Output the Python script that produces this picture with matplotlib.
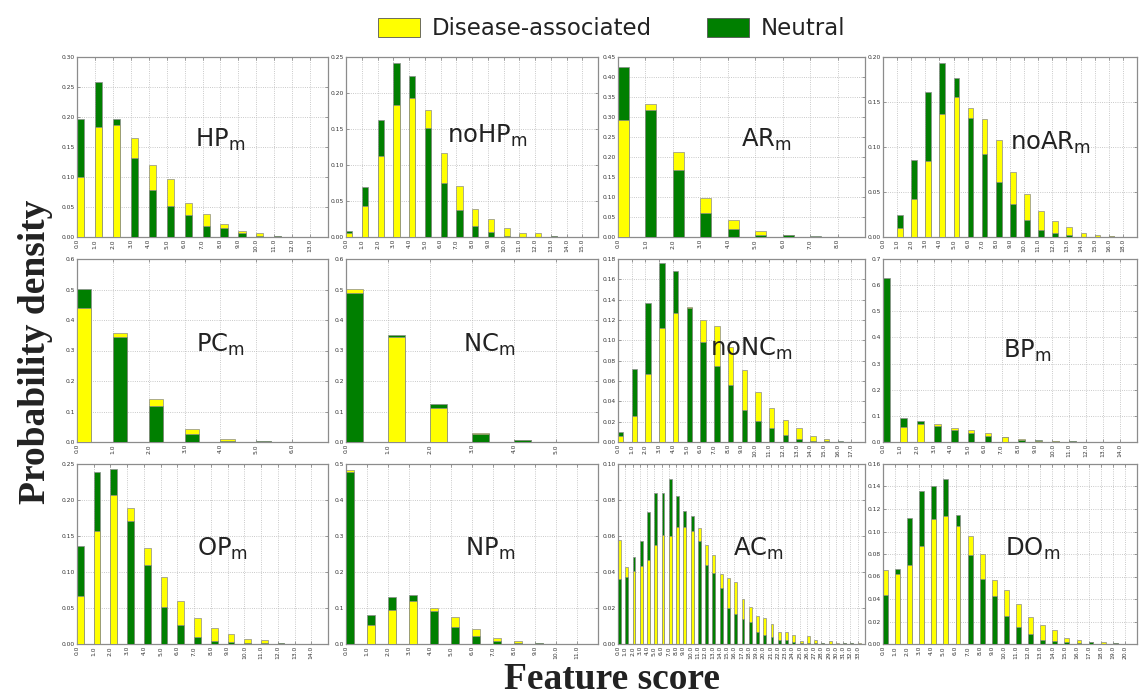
import numpy as np
import matplotlib
matplotlib.use('Agg')
from matplotlib import pyplot as plt
from matplotlib.patches import Patch

#----------------------------Colours-------------------------------------------#
DIS_YELLOW = '#ffff00'
NEU_GREEN = '#007f00'
EDGE_GREY = '#8c8c8c'
TEXT_DARK = '#222222'

#----------------------------Data----------------------------------------------#
# probability density per feature score (disease-associated / neutral)
hpm_scores = list(range(14))
hpm_dis = [0.100, 0.183, 0.187, 0.165, 0.120, 0.096, 0.056, 0.039, 0.022, 0.010,
           0.007, 0.002, 0.0005, 0.0003]
hpm_neu = [0.197, 0.258, 0.196, 0.132, 0.079, 0.052, 0.037, 0.018, 0.015, 0.007,
           0.001, 0.0015, 0.0005, 0.0003]

nohpm_scores = list(range(16))
nohpm_dis = [0.006, 0.0435, 0.1125, 0.183, 0.193, 0.177, 0.116, 0.071, 0.039, 0.0245,
             0.0125, 0.0055, 0.0055, 0.0015, 0.0005, 0.0]
nohpm_neu = [0.009, 0.069, 0.162, 0.242, 0.224, 0.151, 0.075, 0.038, 0.015, 0.0065,
             0.002, 0.0005, 0.0005, 0.001, 0.0005, 0.0]

arm_scores = list(range(9))
arm_dis = [0.292, 0.333, 0.2125, 0.098, 0.0425, 0.015, 0.005, 0.001, 0.0]
arm_neu = [0.426, 0.318, 0.168, 0.059, 0.020, 0.006, 0.004, 0.002, 0.0]

noarm_scores = [0, 1, 2, 3, 4, 5, 6, 7, 8, 9, 10, 11, 12, 13, 14, 15, 16, 18]
noarm_dis = [0.0, 0.0104, 0.042, 0.084, 0.137, 0.155, 0.143, 0.1315, 0.108, 0.072,
             0.0474, 0.029, 0.0174, 0.0115, 0.004, 0.0026, 0.0008, 0.0]
noarm_neu = [0.0005, 0.0248, 0.085, 0.161, 0.193, 0.177, 0.1326, 0.092, 0.061, 0.037,
             0.019, 0.008, 0.0044, 0.0026, 0.0005, 0.0003, 0.001, 0.0]

pcm_scores = list(range(7))
pcm_dis = [0.440, 0.358, 0.142, 0.0425, 0.011, 0.003, 0.0]
pcm_neu = [0.503, 0.345, 0.119, 0.026, 0.004, 0.002, 0.0]

ncm_scores = list(range(6))
ncm_dis = [0.502, 0.343, 0.112, 0.028, 0.007, 0.0]
ncm_neu = [0.489, 0.352, 0.123, 0.026, 0.006, 0.0]

noncm_scores = list(range(18))
noncm_dis = [0.0056, 0.0259, 0.0668, 0.1126, 0.127, 0.1329, 0.1198, 0.1142, 0.0936,
             0.0707, 0.0491, 0.033, 0.0216, 0.0137, 0.0059, 0.0033, 0.0003, 0.0]
noncm_neu = [0.0095, 0.0717, 0.1365, 0.1757, 0.1679, 0.1316, 0.0988, 0.075, 0.056,
             0.0317, 0.0209, 0.0137, 0.0072, 0.003, 0.0007, 0.0005, 0.001, 0.0]

bpm_scores = list(range(15))
bpm_dis = [0.0, 0.0585, 0.070, 0.0675, 0.0547, 0.0445, 0.033, 0.018, 0.0127, 0.004,
           0.002, 0.003, 0.0, 0.0, 0.0]
bpm_neu = [0.629, 0.090, 0.080, 0.061, 0.046, 0.034, 0.024, 0.020, 0.006, 0.006,
           0.003, 0.0025, 0.0, 0.0, 0.0]

opm_scores = list(range(15))
opm_dis = [0.066, 0.157, 0.207, 0.189, 0.134, 0.0926, 0.060, 0.0366, 0.0218, 0.0134,
           0.0065, 0.005, 0.002, 0.0003, 0.0003]
opm_neu = [0.1366, 0.239, 0.2435, 0.171, 0.110, 0.051, 0.027, 0.0093, 0.004, 0.0023,
           0.001, 0.001, 0.0018, 0.0002, 0.0002]

npm_scores = list(range(12))
npm_dis = [0.482, 0.053, 0.0944, 0.120, 0.100, 0.075, 0.0407, 0.0176, 0.0083, 0.002,
           0.0005, 0.0]
npm_neu = [0.479, 0.0806, 0.1306, 0.135, 0.0917, 0.047, 0.023, 0.0083, 0.004, 0.0018,
           0.001, 0.0]

acm_scores = list(range(34))
acm_dis = [0.0576, 0.0426, 0.0407, 0.0435, 0.0467, 0.055, 0.0606, 0.0598, 0.0652,
           0.0652, 0.0626, 0.0644, 0.0548, 0.0493, 0.0387, 0.0369, 0.0343, 0.0248,
           0.0206, 0.0156, 0.0146, 0.0111, 0.0069, 0.0065, 0.0048, 0.0017, 0.0043,
           0.0024, 0.0007, 0.0015, 0.0006, 0.0005, 0.0005, 0.0003]
acm_neu = [0.0359, 0.0372, 0.0485, 0.0574, 0.0735, 0.0839, 0.0841, 0.0917, 0.0824,
           0.0737, 0.0711, 0.0574, 0.0439, 0.0394, 0.0313, 0.0198, 0.0169, 0.0139,
           0.012, 0.0069, 0.0048, 0.0039, 0.0024, 0.0024, 0.0013, 0.0007, 0.0003,
           0.0006, 0.0007, 0.0002, 0.0002, 0.0003, 0.0003, 0.0002]

dom_scores = list(range(21))
dom_dis = [0.0655, 0.0625, 0.070, 0.0874, 0.111, 0.114, 0.1046, 0.0957, 0.0797,
           0.0566, 0.0477, 0.0353, 0.0243, 0.0166, 0.0121, 0.0056, 0.0033, 0.0018,
           0.0015, 0.0006, 0.0002]
dom_neu = [0.0433, 0.067, 0.1117, 0.1363, 0.140, 0.147, 0.1147, 0.0791, 0.058,
           0.0427, 0.0249, 0.0151, 0.0089, 0.0039, 0.0024, 0.0018, 0.0012, 0.0016,
           0.0003, 0.0005, 0.0003]

#----------------------------Panel setup---------------------------------------#
# (label, scores, disease, neutral, ymax, ystep, tick format)
panels = [
    ('HP', hpm_scores, hpm_dis, hpm_neu, 0.30, 0.05, '%.2f'),
    ('noHP', nohpm_scores, nohpm_dis, nohpm_neu, 0.25, 0.05, '%.2f'),
    ('AR', arm_scores, arm_dis, arm_neu, 0.45, 0.05, '%.2f'),
    ('noAR', noarm_scores, noarm_dis, noarm_neu, 0.20, 0.05, '%.2f'),
    ('PC', pcm_scores, pcm_dis, pcm_neu, 0.6, 0.1, '%.1f'),
    ('NC', ncm_scores, ncm_dis, ncm_neu, 0.6, 0.1, '%.1f'),
    ('noNC', noncm_scores, noncm_dis, noncm_neu, 0.18, 0.02, '%.2f'),
    ('BP', bpm_scores, bpm_dis, bpm_neu, 0.7, 0.1, '%.1f'),
    ('OP', opm_scores, opm_dis, opm_neu, 0.25, 0.05, '%.2f'),
    ('NP', npm_scores, npm_dis, npm_neu, 0.5, 0.1, '%.1f'),
    ('AC', acm_scores, acm_dis, acm_neu, 0.10, 0.02, '%.2f'),
    ('DO', dom_scores, dom_dis, dom_neu, 0.16, 0.02, '%.2f'),
]
# where the panel name sits (axes fraction)
label_pos = [(0.57, 0.54), (0.56, 0.56), (0.60, 0.54), (0.66, 0.52),
             (0.57, 0.53), (0.57, 0.53), (0.54, 0.51), (0.57, 0.50),
             (0.58, 0.53), (0.57, 0.53), (0.57, 0.53), (0.59, 0.53)]

W, H = 1143.0, 696.0
col_px = [(77, 251), (346, 252), (618, 247), (883, 254)]   # left, width
row_px = [(57, 180), (259, 183), (464, 180)]                # top, height
bar_w = 0.4

#----------------------------Plotting------------------------------------------#
fig = plt.figure(figsize=(W / 100, H / 100), dpi=100)

for k, (name, scores, dis, neu, ymax, ystep, fmt) in enumerate(panels):
    r, c = divmod(k, 4)
    left, width = col_px[c]
    top, height = row_px[r]
    ax = fig.add_axes([left / W, 1 - (top + height) / H, width / W, height / H])

    dis = np.asarray(dis)
    neu = np.asarray(neu)
    idx = np.arange(len(scores))
    dis_taller = dis >= neu
    # taller bar behind, shorter one in front
    ax.bar(idx, np.maximum(dis, neu), width=bar_w, align='edge',
           color=np.where(dis_taller, DIS_YELLOW, NEU_GREEN),
           edgecolor=EDGE_GREY, linewidth=0.5, zorder=2)
    ax.bar(idx, np.minimum(dis, neu), width=bar_w, align='edge',
           color=np.where(dis_taller, NEU_GREEN, DIS_YELLOW),
           edgecolor=EDGE_GREY, linewidth=0.5, zorder=3)

    ax.set_xlim(0, len(scores))
    ax.set_ylim(0, ymax)
    ax.set_xticks(idx)
    ax.set_xticklabels(['%.1f' % s for s in scores], rotation=90)
    yt = np.arange(0, ymax + ystep / 2, ystep)
    ax.set_yticks(yt)
    ax.set_yticklabels([fmt % v for v in yt])
    ax.tick_params(axis='both', direction='in', top=True, right=True,
                   length=2.5, width=0.5, colors='#777777', labelsize=4.3,
                   labelcolor='#333333', pad=1.5)
    ax.grid(True, linestyle=':', color='#b8b8b8', linewidth=0.6)
    ax.set_axisbelow(True)
    for sp in ax.spines.values():
        sp.set_color('#8c8c8c')
        sp.set_linewidth(0.9)

    lx, ly = label_pos[k]
    ax.text(lx, ly, name + r'$_{\rm m}$', transform=ax.transAxes,
            ha='center', va='center', fontsize=17.5, color=TEXT_DARK, zorder=5)

# legend on top
handles = [Patch(facecolor=DIS_YELLOW, edgecolor='#555555', linewidth=0.6),
           Patch(facecolor=NEU_GREEN, edgecolor='#555555', linewidth=0.6)]
fig.legend(handles, ['Disease-associated', 'Neutral'], loc='upper center',
           bbox_to_anchor=(0.535, 1.005), ncol=2, frameon=False, fontsize=16.5,
           handlelength=1.85, handleheight=0.9, columnspacing=2.4,
           handletextpad=0.5, labelcolor=TEXT_DARK)

fig.text(0.031, 0.495, 'Probability density', rotation=90, ha='center',
         va='center', fontsize=27, fontweight='bold', family='Liberation Serif',
         color=TEXT_DARK)
fig.text(0.535, 0.023, 'Feature score', ha='center', va='center', fontsize=27,
         fontweight='bold', family='Liberation Serif', color=TEXT_DARK)

fig.savefig('out.png', dpi=100)
